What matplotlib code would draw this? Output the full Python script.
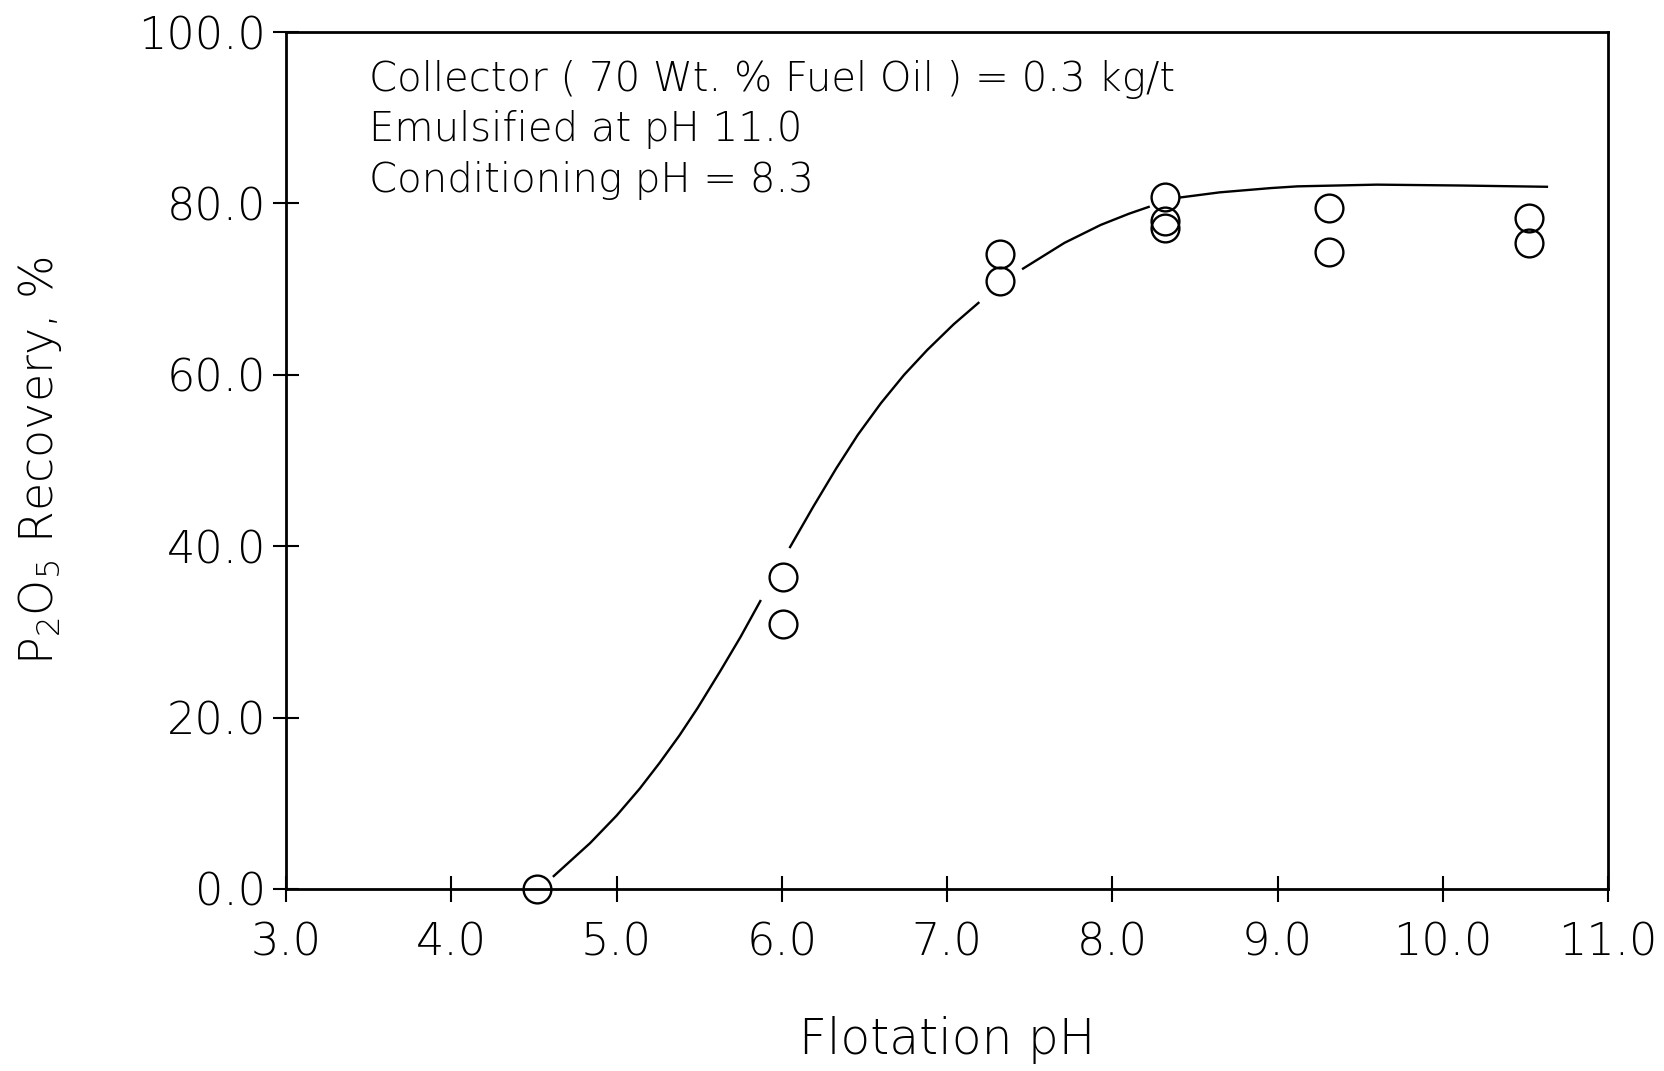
import numpy as np
import matplotlib
matplotlib.use('Agg')
import matplotlib.pyplot as plt

# P2O5 recovery vs flotation pH, duplicate runs at each pH
flot_ph = [4.52, 6.01, 6.01, 7.32, 7.32, 8.32, 8.32, 8.32, 9.31, 9.31, 10.52, 10.52]
recovery = [0.0, 36.4, 30.9, 74.1, 71.0, 80.7, 77.9, 77.1, 79.5, 74.3, 78.3, 75.4]

# hand-drawn trend line, NaN where the pen lifts around the symbols
fit_ph = [4.62, 4.84, 5.00, 5.14, 5.26, 5.38, 5.49, 5.63, 5.75, 5.87, np.nan,
          6.05, 6.19, 6.33, 6.46, 6.60, 6.74, 6.88, 7.04, 7.19, np.nan,
          7.46, 7.71, 7.93, 8.10, 8.22, np.nan,
          8.41, 8.65, 8.96, 9.12, 9.60, 10.10, 10.63]
fit_rec = [1.5, 5.35, 8.55, 11.7, 14.7, 17.9, 21.1, 25.5, 29.4, 33.6, np.nan,
           39.9, 44.6, 49.1, 53.0, 56.7, 60.0, 62.9, 65.9, 68.4, np.nan,
           72.4, 75.4, 77.5, 78.8, 79.6, np.nan,
           80.7, 81.3, 81.8, 82.0, 82.2, 82.1, 81.95]

x_ticks = [3.0, 4.0, 5.0, 6.0, 7.0, 8.0, 9.0, 10.0, 11.0]
y_ticks = [0.0, 20.0, 40.0, 60.0, 80.0, 100.0]

notes = ["Collector ( 70 Wt. % Fuel Oil ) = 0.3 kg/t",
         "Emulsified at pH 11.0",
         "Conditioning pH = 8.3"]

plt.rcParams['font.family'] = ['DejaVu Sans']
plt.rcParams['font.weight'] = 'light'
plt.rcParams['axes.labelweight'] = 'light'

fig = plt.figure(figsize=(16.65, 10.71), dpi=100)
ax = fig.add_axes([0.1718, 0.170, 0.794, 0.800])

ax.plot(fit_ph, fit_rec, color='k', lw=1.7)
ax.plot(flot_ph, recovery, 'o', mfc='none', mec='k', ms=20, mew=1.7,
        clip_on=False, zorder=4)

ax.set_xlim(3, 11)
ax.set_ylim(0, 100)
ax.set_xticks(x_ticks)
ax.set_xticklabels([f'{v:.1f}' for v in x_ticks])
ax.set_yticks(y_ticks)
ax.set_yticklabels([f'{v:.1f}' for v in y_ticks])
ax.tick_params(direction='inout', length=19, width=1.5, labelsize=32)
ax.tick_params(axis='x', pad=14)
ax.tick_params(axis='y', pad=5)
for s in ax.spines.values():
    s.set_linewidth(2)

ax.set_xlabel('Flotation pH', fontsize=35)
ax.xaxis.set_label_coords(0.5, -0.148)
ax.set_ylabel(r'P$_\mathregular{2}$O$_\mathregular{5}$ Recovery, %', fontsize=33)
ax.yaxis.set_label_coords(-0.168, 0.5)

for yy, line in zip([0.931, 0.8726, 0.813], notes):
    ax.text(0.0624, yy, line, transform=ax.transAxes, fontsize=29, va='baseline')

fig.savefig('out.png', dpi=100)
